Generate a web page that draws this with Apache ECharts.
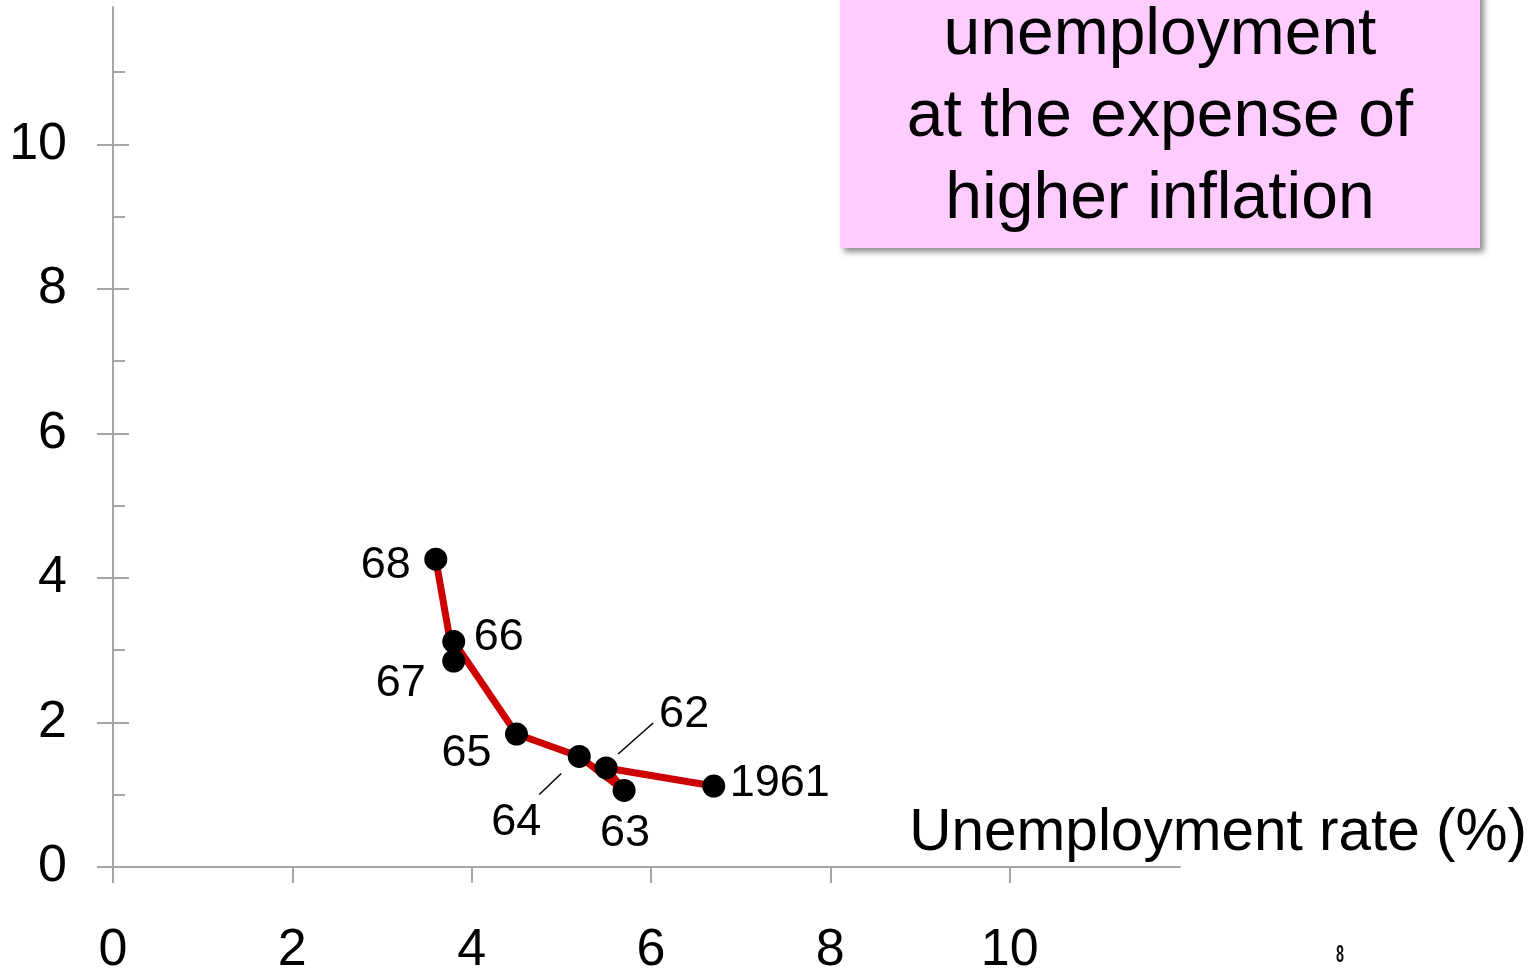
<!DOCTYPE html>
<html>
<head>
<meta charset="utf-8">
<script src="https://cdn.jsdelivr.net/npm/echarts@6/dist/echarts.min.js"></script>
<style>
  html, body { margin: 0; padding: 0; background: #fff; }
  #chart { width: 1529px; height: 970px; }
</style>
</head>
<body>
<div id="chart"></div>
<script>
// Phillips curve, United States 1961-1968
const years = ['1961', '62', '63', '64', '65', '66', '67', '68'];
const unemployment = [6.7, 5.5, 5.7, 5.2, 4.5, 3.8, 3.8, 3.6];   // %
const inflation = [1.12, 1.37, 1.06, 1.53, 1.84, 3.12, 2.85, 4.26]; // %

const xTicks = [0, 2, 4, 6, 8, 10];
const yTicks = [0, 2, 4, 6, 8, 10];
const yMinorTicks = [1, 3, 5, 7, 9, 11];

const boxLines = ['unemployment', 'at the expense of', 'higher inflation'];
const axisTitle = 'Unemployment rate (%)';
const pageNumber = '8';

// label placement around each year's dot (pixels)
const labelOffsets = [[66, -2], [78, -53], [1, 43], [-63, 66], [-50, 20], [45, -4], [-53, 23], [-50, 6]];
// short leader strokes for crowded labels: index -> [start dx, start dy, end dx, end dy]
const leaders = { 1: [12, -14, 47, -45], 3: [-18, 17, -40, 38] };

const FONT = '"Liberation Sans", Arial, Helvetica, sans-serif';
const AXIS_GREY = '#a6a6a6';
const AX_MAX = 11.9;

const points = unemployment.map((u, i) => [u, inflation[i]]);

const chart = echarts.init(document.getElementById('chart'), null, { renderer: 'canvas' });

const baseY = {
  type: 'value', min: 0, max: AX_MAX, interval: 2, position: 'left', gridIndex: 0,
  splitLine: { show: false }
};

chart.setOption({
  animation: false,
  backgroundColor: '#ffffff',
  grid: { left: 113, top: 7, width: 1067, height: 860, containLabel: false, outerBoundsMode: 'none' },
  xAxis: {
    type: 'value', min: 0, max: AX_MAX, interval: 2,
    axisLine: { show: true, lineStyle: { color: AXIS_GREY, width: 2 } },
    axisTick: { show: true, customValues: xTicks, length: 16, lineStyle: { color: AXIS_GREY, width: 2 } },
    axisLabel: { customValues: xTicks, fontSize: 52, fontFamily: FONT, color: '#000', margin: 58 },
    splitLine: { show: false }
  },
  yAxis: [
    Object.assign({}, baseY, {
      axisLine: { show: true, lineStyle: { color: AXIS_GREY, width: 2 } },
      axisTick: { show: true, customValues: yTicks, length: 16, lineStyle: { color: AXIS_GREY, width: 2 } },
      axisLabel: { customValues: yTicks, fontSize: 52, fontFamily: FONT, color: '#000', margin: 46, padding: [9, 0, 0, 0] }
    }),
    Object.assign({}, baseY, {
      axisLine: { show: false },
      axisTick: { show: true, inside: true, customValues: yTicks, length: 16, lineStyle: { color: AXIS_GREY, width: 2 } },
      axisLabel: { show: false }
    }),
    Object.assign({}, baseY, {
      axisLine: { show: false },
      axisTick: { show: true, inside: true, customValues: yMinorTicks, length: 12, lineStyle: { color: AXIS_GREY, width: 2 } },
      axisLabel: { show: false }
    })
  ],
  series: [
    {
      type: 'line',
      data: points,
      symbol: 'none',
      lineStyle: { color: '#cc0000', width: 7 },
      z: 2
    },
    {
      type: 'custom',
      coordinateSystem: 'cartesian2d',
      data: Object.keys(leaders).map(k => [unemployment[+k], inflation[+k], +k]),
      renderItem: function (params, api) {
        const p = api.coord([api.value(0), api.value(1)]);
        const d = leaders[api.value(2)];
        return {
          type: 'line',
          shape: { x1: p[0] + d[0], y1: p[1] + d[1], x2: p[0] + d[2], y2: p[1] + d[3] },
          style: { stroke: '#000', lineWidth: 1.5 }
        };
      },
      silent: true,
      z: 3
    },
    {
      type: 'scatter',
      data: points.map((p, i) => ({ value: p, label: { offset: labelOffsets[i] } })),
      symbol: 'circle',
      symbolSize: 23,
      itemStyle: { color: '#000', opacity: 1 },
      label: {
        show: true,
        position: 'inside',
        formatter: params => years[params.dataIndex],
        fontSize: 45,
        fontFamily: FONT,
        color: '#000',
        opacity: 1
      },
      emphasis: { disabled: true },
      z: 4
    }
  ],
  graphic: [
    {
      type: 'rect',
      shape: { x: 840, y: -20, width: 640, height: 268 },
      style: {
        fill: '#ffccff',
        shadowBlur: 6, shadowOffsetX: 4, shadowOffsetY: 4, shadowColor: 'rgba(0,0,0,0.45)'
      },
      z: 10
    },
    {
      type: 'text',
      x: 1160, y: 118,
      style: {
        text: boxLines.join('\n'),
        font: '66px ' + FONT,
        fill: '#000',
        align: 'center',
        verticalAlign: 'middle',
        lineHeight: 82
      },
      z: 11
    },
    {
      type: 'text',
      x: 1527, y: 834,
      style: {
        text: axisTitle,
        font: '58.5px ' + FONT,
        fill: '#000',
        align: 'right',
        verticalAlign: 'middle'
      },
      z: 11
    },
    {
      type: 'text',
      x: 1340, y: 955,
      scaleX: 0.6,
      style: {
        text: pageNumber,
        font: 'bold 24px ' + FONT,
        fill: '#111',
        align: 'center',
        verticalAlign: 'middle'
      },
      z: 11
    }
  ]
});
</script>
</body>
</html>
